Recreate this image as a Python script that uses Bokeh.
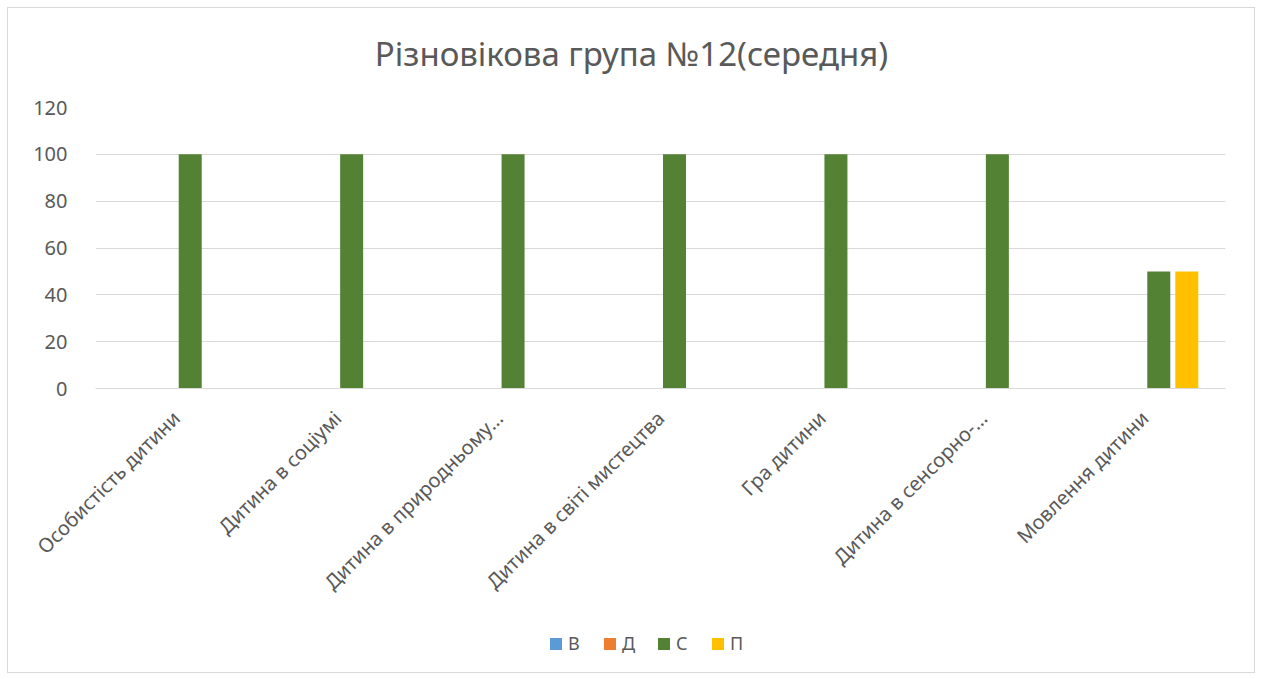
from bokeh.plotting import figure
from bokeh.models import ColumnDataSource, Legend, LegendItem, FixedTicker
from bokeh.core.properties import value
from bokeh.layouts import column
from bokeh.transform import dodge
from bokeh.embed import file_html
from bokeh.resources import INLINE
import math

title_text = "Різновікова група №12(середня)"
categories = ["Особистість дитини", "Дитина в соціумі", "Дитина в природньому…",
              "Дитина в світі мистецтва", "Гра дитини", "Дитина в сенсорно-…",
              "Мовлення дитини"]
series = ["В", "Д", "С", "П"]
val_V = [0, 0, 0, 0, 0, 0, 0]
val_D = [0, 0, 0, 0, 0, 0, 0]
val_S = [100, 100, 100, 100, 100, 100, 50]
val_P = [0, 0, 0, 0, 0, 0, 50]
colors = ["#5B9BD5", "#ED7D31", "#548235", "#FFC000"]
y_ticks = [0, 20, 40, 60, 80, 100, 120]

FONT = "Noto Sans"
GREY = "#595959"
W = 1246

# header strip holding the chart title (its frame is aligned with the chart's frame)
hd = figure(width=W, height=79, x_range=(87, 1217), y_range=(0, 79),
            output_backend="svg", toolbar_location=None,
            x_axis_location=None, y_axis_location=None, min_border=0)
hd.outline_line_color = None
hd.xgrid.grid_line_color = None
hd.ygrid.grid_line_color = None
hd.text(x=[W / 2], y=[34], text=[title_text], text_align="center",
        text_baseline="alphabetic", text_font=value(FONT), text_font_size="33px",
        text_color=GREY)

source = ColumnDataSource(dict(cat=categories, В=val_V, Д=val_D, С=val_S, П=val_P))

p = figure(x_range=categories, y_range=(0, 120), width=W, height=541,
           output_backend="svg", toolbar_location=None,
           min_border_left=87, min_border_right=29, min_border_top=20,
           min_border_bottom=240)

step = 0.1735
bw = 0.1425
offsets = [-1.5 * step, -0.5 * step, 0.5 * step, 1.5 * step]
for s, c, off in zip(series, colors, offsets):
    p.vbar(x=dodge("cat", off, range=p.x_range), top=s, width=bw, source=source,
           fill_color=c, line_color=None)

p.outline_line_color = None
p.background_fill_color = "white"
p.border_fill_color = "white"

p.xgrid.grid_line_color = None
p.ygrid.grid_line_color = "#d9d9d9"
p.ygrid.grid_line_width = 1

p.yaxis.ticker = FixedTicker(ticks=y_ticks)
p.yaxis.axis_line_color = None
p.yaxis.major_tick_line_color = None
p.yaxis.minor_tick_line_color = None
p.yaxis.major_label_standoff = 22
p.yaxis.major_label_text_font = FONT
p.yaxis.major_label_text_font_size = "20px"
p.yaxis.major_label_text_color = GREY

p.xaxis.axis_line_color = "#d9d9d9"
p.xaxis.major_tick_line_color = None
p.xaxis.minor_tick_line_color = None
p.xaxis.major_label_orientation = math.pi / 4
p.xaxis.major_label_standoff = 20
p.xaxis.major_label_text_font = FONT
p.xaxis.major_label_text_font_size = "20px"
p.xaxis.major_label_text_color = GREY

# legend strip below the chart
lg = figure(width=W, height=44, x_range=(0, 1), y_range=(0, 1),
            output_backend="svg", toolbar_location=None,
            x_axis_location=None, y_axis_location=None, min_border=0)
lg.outline_line_color = None
lg.xgrid.grid_line_color = None
lg.ygrid.grid_line_color = None
items = []
for s, c in zip(series, colors):
    r = lg.vbar(x=[-1], top=[0], width=0.01, fill_color=c, line_color=None)
    items.append(LegendItem(label=s, renderers=[r]))
legend = Legend(items=items, orientation="horizontal", location=(453, 17))
legend.glyph_width = 15
legend.glyph_height = 15
legend.label_standoff = 5
legend.spacing = 14
legend.padding = 0
legend.margin = 0
legend.border_line_color = None
legend.background_fill_alpha = 0
legend.label_text_font = FONT
legend.label_text_font_size = "18px"
legend.label_text_color = GREY
legend.label_height = 15
lg.add_layout(legend, "center")

layout = column(hd, p, lg, spacing=0)
layout.styles = {"border": "1px solid #d9d9d9", "margin-left": "7px", "margin-top": "7px"}

open("out.html", "w").write(file_html(layout, INLINE))
